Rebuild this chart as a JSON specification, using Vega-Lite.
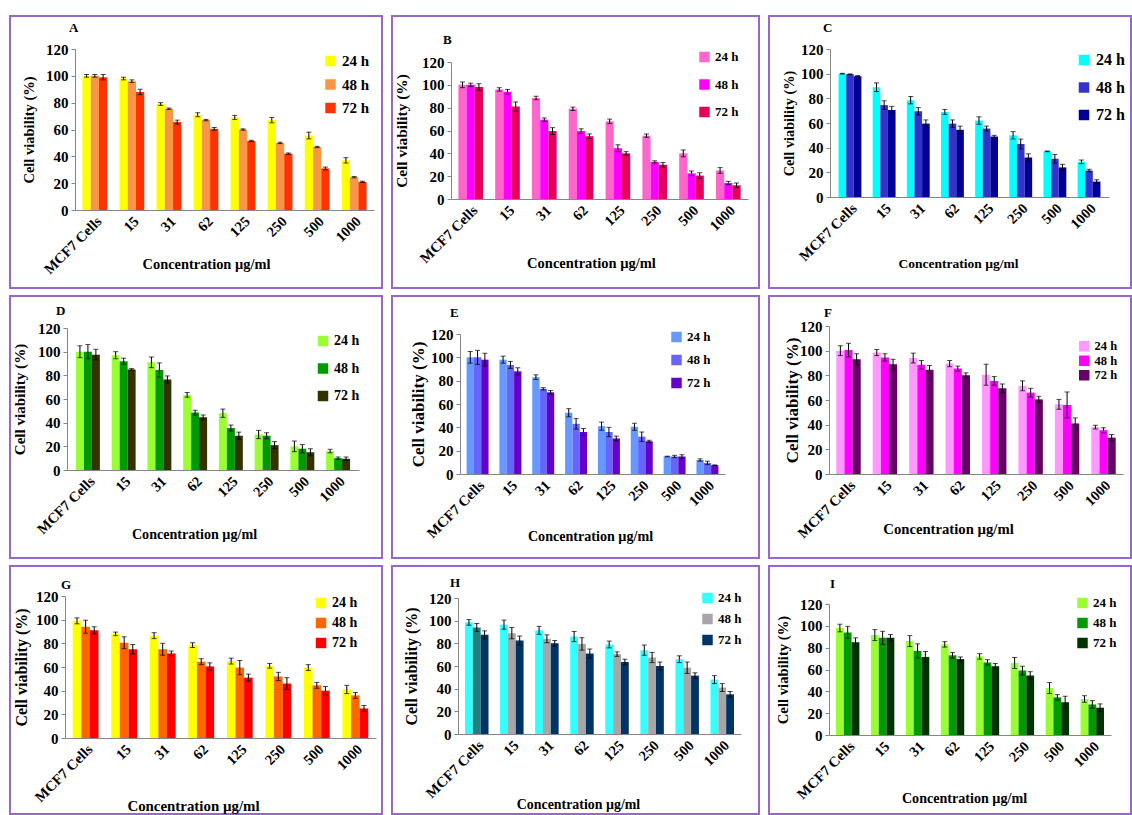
{
"$schema":"https://vega.github.io/schema/vega-lite/v6.json",
"background":"white",
"padding":{"left":9,"top":15,"right":0,"bottom":0},
"bounds":"flush",
"columns":3,
"align":"each",
"spacing":{"row":8,"column":10},
"data":{"values":[
{"p":"A","c":"MCF7 Cells","t":"24 h","v":100,"e":1},{"p":"A","c":"MCF7 Cells","t":"48 h","v":100,"e":1},{"p":"A","c":"MCF7 Cells","t":"72 h","v":99,"e":2},
{"p":"A","c":"15","t":"24 h","v":98,"e":1},{"p":"A","c":"15","t":"48 h","v":96,"e":1},{"p":"A","c":"15","t":"72 h","v":88,"e":2},
{"p":"A","c":"31","t":"24 h","v":79,"e":1},{"p":"A","c":"31","t":"48 h","v":75.5,"e":0.5},{"p":"A","c":"31","t":"72 h","v":65.5,"e":1.5},
{"p":"A","c":"62","t":"24 h","v":71,"e":1.5},{"p":"A","c":"62","t":"48 h","v":67,"e":0.5},{"p":"A","c":"62","t":"72 h","v":60.5,"e":1},
{"p":"A","c":"125","t":"24 h","v":69,"e":1.5},{"p":"A","c":"125","t":"48 h","v":60,"e":0.5},{"p":"A","c":"125","t":"72 h","v":51.5,"e":0.5},
{"p":"A","c":"250","t":"24 h","v":67,"e":2},{"p":"A","c":"250","t":"48 h","v":50,"e":0.5},{"p":"A","c":"250","t":"72 h","v":42,"e":0.5},
{"p":"A","c":"500","t":"24 h","v":55.5,"e":2.5},{"p":"A","c":"500","t":"48 h","v":47,"e":0.5},{"p":"A","c":"500","t":"72 h","v":31,"e":1},
{"p":"A","c":"1000","t":"24 h","v":37,"e":2},{"p":"A","c":"1000","t":"48 h","v":24.5,"e":0.5},{"p":"A","c":"1000","t":"72 h","v":21,"e":0.5},
{"p":"B","c":"MCF7 Cells","t":"24 h","v":100,"e":2.5},{"p":"B","c":"MCF7 Cells","t":"48 h","v":100,"e":1.5},{"p":"B","c":"MCF7 Cells","t":"72 h","v":98,"e":3},
{"p":"B","c":"15","t":"24 h","v":96,"e":1.5},{"p":"B","c":"15","t":"48 h","v":94,"e":2},{"p":"B","c":"15","t":"72 h","v":81,"e":4},
{"p":"B","c":"31","t":"24 h","v":88.5,"e":1.5},{"p":"B","c":"31","t":"48 h","v":69.5,"e":1.5},{"p":"B","c":"31","t":"72 h","v":59.5,"e":3},
{"p":"B","c":"62","t":"24 h","v":79,"e":1.5},{"p":"B","c":"62","t":"48 h","v":59.5,"e":2},{"p":"B","c":"62","t":"72 h","v":55,"e":2},
{"p":"B","c":"125","t":"24 h","v":68,"e":2},{"p":"B","c":"125","t":"48 h","v":44.5,"e":3},{"p":"B","c":"125","t":"72 h","v":40,"e":1.5},
{"p":"B","c":"250","t":"24 h","v":55.5,"e":1.5},{"p":"B","c":"250","t":"48 h","v":32.5,"e":1},{"p":"B","c":"250","t":"72 h","v":30,"e":2},
{"p":"B","c":"500","t":"24 h","v":40,"e":3},{"p":"B","c":"500","t":"48 h","v":22.5,"e":2},{"p":"B","c":"500","t":"72 h","v":20.5,"e":2.5},
{"p":"B","c":"1000","t":"24 h","v":25,"e":2.5},{"p":"B","c":"1000","t":"48 h","v":14,"e":1.5},{"p":"B","c":"1000","t":"72 h","v":12,"e":2},
{"p":"C","c":"MCF7 Cells","t":"24 h","v":100,"e":0.3},{"p":"C","c":"MCF7 Cells","t":"48 h","v":99.5,"e":0.3},{"p":"C","c":"MCF7 Cells","t":"72 h","v":98,"e":0.5},
{"p":"C","c":"15","t":"24 h","v":89,"e":3.5},{"p":"C","c":"15","t":"48 h","v":74.5,"e":3.5},{"p":"C","c":"15","t":"72 h","v":70.5,"e":3},
{"p":"C","c":"31","t":"24 h","v":78.5,"e":3},{"p":"C","c":"31","t":"48 h","v":69.5,"e":3},{"p":"C","c":"31","t":"72 h","v":59.5,"e":3},
{"p":"C","c":"62","t":"24 h","v":69,"e":2},{"p":"C","c":"62","t":"48 h","v":59.5,"e":3},{"p":"C","c":"62","t":"72 h","v":54.5,"e":3},
{"p":"C","c":"125","t":"24 h","v":62,"e":3},{"p":"C","c":"125","t":"48 h","v":55.5,"e":2},{"p":"C","c":"125","t":"72 h","v":49,"e":1},
{"p":"C","c":"250","t":"24 h","v":50,"e":3},{"p":"C","c":"250","t":"48 h","v":43,"e":4},{"p":"C","c":"250","t":"72 h","v":32,"e":3},
{"p":"C","c":"500","t":"24 h","v":37,"e":0.3},{"p":"C","c":"500","t":"48 h","v":31,"e":3.5},{"p":"C","c":"500","t":"72 h","v":24,"e":2.5},
{"p":"C","c":"1000","t":"24 h","v":28.5,"e":1.5},{"p":"C","c":"1000","t":"48 h","v":21.5,"e":1},{"p":"C","c":"1000","t":"72 h","v":12.5,"e":1.5},
{"p":"D","c":"MCF7 Cells","t":"24 h","v":100,"e":5},{"p":"D","c":"MCF7 Cells","t":"48 h","v":100,"e":6},{"p":"D","c":"MCF7 Cells","t":"72 h","v":97.5,"e":4.5},
{"p":"D","c":"15","t":"24 h","v":97,"e":3},{"p":"D","c":"15","t":"48 h","v":92,"e":2.5},{"p":"D","c":"15","t":"72 h","v":85,"e":0.7},
{"p":"D","c":"31","t":"24 h","v":91,"e":4.5},{"p":"D","c":"31","t":"48 h","v":84.5,"e":6},{"p":"D","c":"31","t":"72 h","v":76.5,"e":3},
{"p":"D","c":"62","t":"24 h","v":63.5,"e":2},{"p":"D","c":"62","t":"48 h","v":48.5,"e":2},{"p":"D","c":"62","t":"72 h","v":44.5,"e":2},
{"p":"D","c":"125","t":"24 h","v":48,"e":3.5},{"p":"D","c":"125","t":"48 h","v":35.5,"e":2.5},{"p":"D","c":"125","t":"72 h","v":29,"e":3},
{"p":"D","c":"250","t":"24 h","v":30,"e":3.5},{"p":"D","c":"250","t":"48 h","v":29,"e":2.5},{"p":"D","c":"250","t":"72 h","v":21,"e":3},
{"p":"D","c":"500","t":"24 h","v":20,"e":4.5},{"p":"D","c":"500","t":"48 h","v":18,"e":3.5},{"p":"D","c":"500","t":"72 h","v":15,"e":3},
{"p":"D","c":"1000","t":"24 h","v":16,"e":1.5},{"p":"D","c":"1000","t":"48 h","v":10,"e":1},{"p":"D","c":"1000","t":"72 h","v":9.5,"e":1.5},
{"p":"E","c":"MCF7 Cells","t":"24 h","v":100,"e":5},{"p":"E","c":"MCF7 Cells","t":"48 h","v":100,"e":6},{"p":"E","c":"MCF7 Cells","t":"72 h","v":98,"e":5.5},
{"p":"E","c":"15","t":"24 h","v":98,"e":3},{"p":"E","c":"15","t":"48 h","v":93.5,"e":3},{"p":"E","c":"15","t":"72 h","v":88,"e":3},
{"p":"E","c":"31","t":"24 h","v":83,"e":2},{"p":"E","c":"31","t":"48 h","v":73,"e":1},{"p":"E","c":"31","t":"72 h","v":70,"e":1.5},
{"p":"E","c":"62","t":"24 h","v":52.5,"e":3.5},{"p":"E","c":"62","t":"48 h","v":43,"e":4.5},{"p":"E","c":"62","t":"72 h","v":36,"e":3},
{"p":"E","c":"125","t":"24 h","v":41,"e":3.5},{"p":"E","c":"125","t":"48 h","v":36,"e":4},{"p":"E","c":"125","t":"72 h","v":30.5,"e":2},
{"p":"E","c":"250","t":"24 h","v":40.5,"e":3},{"p":"E","c":"250","t":"48 h","v":32,"e":4},{"p":"E","c":"250","t":"72 h","v":28,"e":1},
{"p":"E","c":"500","t":"24 h","v":15,"e":0.3},{"p":"E","c":"500","t":"48 h","v":15,"e":1},{"p":"E","c":"500","t":"72 h","v":15,"e":1.5},
{"p":"E","c":"1000","t":"24 h","v":12,"e":1},{"p":"E","c":"1000","t":"48 h","v":9.5,"e":1.5},{"p":"E","c":"1000","t":"72 h","v":7.5,"e":0.3},
{"p":"F","c":"MCF7 Cells","t":"24 h","v":100,"e":4},{"p":"F","c":"MCF7 Cells","t":"48 h","v":100.5,"e":5.5},{"p":"F","c":"MCF7 Cells","t":"72 h","v":93,"e":4.5},
{"p":"F","c":"15","t":"24 h","v":98.5,"e":2.5},{"p":"F","c":"15","t":"48 h","v":94.5,"e":3},{"p":"F","c":"15","t":"72 h","v":89,"e":4},
{"p":"F","c":"31","t":"24 h","v":94,"e":4},{"p":"F","c":"31","t":"48 h","v":88.5,"e":3.5},{"p":"F","c":"31","t":"72 h","v":84.5,"e":3.5},
{"p":"F","c":"62","t":"24 h","v":89.5,"e":2.5},{"p":"F","c":"62","t":"48 h","v":85.5,"e":2},{"p":"F","c":"62","t":"72 h","v":80,"e":2},
{"p":"F","c":"125","t":"24 h","v":80.5,"e":8.5},{"p":"F","c":"125","t":"48 h","v":75.5,"e":3.5},{"p":"F","c":"125","t":"72 h","v":69.5,"e":3.5},
{"p":"F","c":"250","t":"24 h","v":71.5,"e":4},{"p":"F","c":"250","t":"48 h","v":66,"e":3.5},{"p":"F","c":"250","t":"72 h","v":60.5,"e":2.5},
{"p":"F","c":"500","t":"24 h","v":56.5,"e":4},{"p":"F","c":"500","t":"48 h","v":56,"e":10.5},{"p":"F","c":"500","t":"72 h","v":41,"e":4.5},
{"p":"F","c":"1000","t":"24 h","v":38,"e":1.5},{"p":"F","c":"1000","t":"48 h","v":35.5,"e":2},{"p":"F","c":"1000","t":"72 h","v":29.5,"e":2.5},
{"p":"G","c":"MCF7 Cells","t":"24 h","v":99,"e":2.5},{"p":"G","c":"MCF7 Cells","t":"48 h","v":94,"e":5.5},{"p":"G","c":"MCF7 Cells","t":"72 h","v":91,"e":3},
{"p":"G","c":"15","t":"24 h","v":88,"e":1.5},{"p":"G","c":"15","t":"48 h","v":80.5,"e":5},{"p":"G","c":"15","t":"72 h","v":75,"e":4},
{"p":"G","c":"31","t":"24 h","v":86.5,"e":2.5},{"p":"G","c":"31","t":"48 h","v":75,"e":5},{"p":"G","c":"31","t":"72 h","v":71.5,"e":2},
{"p":"G","c":"62","t":"24 h","v":78.5,"e":2},{"p":"G","c":"62","t":"48 h","v":64.5,"e":2.5},{"p":"G","c":"62","t":"72 h","v":60.5,"e":3},
{"p":"G","c":"125","t":"24 h","v":65,"e":2.5},{"p":"G","c":"125","t":"48 h","v":59.5,"e":6},{"p":"G","c":"125","t":"72 h","v":51,"e":3},
{"p":"G","c":"250","t":"24 h","v":61,"e":2},{"p":"G","c":"250","t":"48 h","v":52,"e":3.5},{"p":"G","c":"250","t":"72 h","v":46,"e":5},
{"p":"G","c":"500","t":"24 h","v":59.5,"e":2.5},{"p":"G","c":"500","t":"48 h","v":44.5,"e":2.5},{"p":"G","c":"500","t":"72 h","v":40,"e":3.5},
{"p":"G","c":"1000","t":"24 h","v":41,"e":3.5},{"p":"G","c":"1000","t":"48 h","v":36,"e":2.5},{"p":"G","c":"1000","t":"72 h","v":25,"e":2.5},
{"p":"H","c":"MCF7 Cells","t":"24 h","v":98.5,"e":2.5},{"p":"H","c":"MCF7 Cells","t":"48 h","v":94,"e":3.5},{"p":"H","c":"MCF7 Cells","t":"72 h","v":87.5,"e":3.5},
{"p":"H","c":"15","t":"24 h","v":96.5,"e":4},{"p":"H","c":"15","t":"48 h","v":89,"e":5},{"p":"H","c":"15","t":"72 h","v":82.5,"e":4},
{"p":"H","c":"31","t":"24 h","v":91.5,"e":3.5},{"p":"H","c":"31","t":"48 h","v":84,"e":3.5},{"p":"H","c":"31","t":"72 h","v":80,"e":2.5},
{"p":"H","c":"62","t":"24 h","v":86,"e":4.5},{"p":"H","c":"62","t":"48 h","v":79.5,"e":5.5},{"p":"H","c":"62","t":"72 h","v":71,"e":4},
{"p":"H","c":"125","t":"24 h","v":79,"e":3},{"p":"H","c":"125","t":"48 h","v":70.5,"e":2},{"p":"H","c":"125","t":"72 h","v":63.5,"e":2.5},
{"p":"H","c":"250","t":"24 h","v":74,"e":4.5},{"p":"H","c":"250","t":"48 h","v":67.5,"e":4.5},{"p":"H","c":"250","t":"72 h","v":60,"e":3.5},
{"p":"H","c":"500","t":"24 h","v":66,"e":3},{"p":"H","c":"500","t":"48 h","v":58.5,"e":5},{"p":"H","c":"500","t":"72 h","v":51.5,"e":2.5},
{"p":"H","c":"1000","t":"24 h","v":48,"e":3.5},{"p":"H","c":"1000","t":"48 h","v":41,"e":3.5},{"p":"H","c":"1000","t":"72 h","v":35,"e":2.5},
{"p":"I","c":"MCF7 Cells","t":"24 h","v":98,"e":3.5},{"p":"I","c":"MCF7 Cells","t":"48 h","v":94,"e":5.5},{"p":"I","c":"MCF7 Cells","t":"72 h","v":85,"e":4},
{"p":"I","c":"15","t":"24 h","v":91.5,"e":5},{"p":"I","c":"15","t":"48 h","v":89,"e":6},{"p":"I","c":"15","t":"72 h","v":89,"e":3},
{"p":"I","c":"31","t":"24 h","v":86,"e":5},{"p":"I","c":"31","t":"48 h","v":77,"e":6.5},{"p":"I","c":"31","t":"72 h","v":71.5,"e":5},
{"p":"I","c":"62","t":"24 h","v":83,"e":2.5},{"p":"I","c":"62","t":"48 h","v":73,"e":2.5},{"p":"I","c":"62","t":"72 h","v":69.5,"e":2},
{"p":"I","c":"125","t":"24 h","v":72,"e":2.5},{"p":"I","c":"125","t":"48 h","v":66.5,"e":2.5},{"p":"I","c":"125","t":"72 h","v":63,"e":2.5},
{"p":"I","c":"250","t":"24 h","v":66,"e":5},{"p":"I","c":"250","t":"48 h","v":59,"e":4},{"p":"I","c":"250","t":"72 h","v":54.5,"e":3.5},
{"p":"I","c":"500","t":"24 h","v":43,"e":5},{"p":"I","c":"500","t":"48 h","v":34.5,"e":2.5},{"p":"I","c":"500","t":"72 h","v":30,"e":5.5},
{"p":"I","c":"1000","t":"24 h","v":33,"e":3},{"p":"I","c":"1000","t":"48 h","v":28,"e":3.5},{"p":"I","c":"1000","t":"72 h","v":25,"e":3.5}
]},
"resolve":{"scale":{"color":"independent","x":"independent","y":"independent","xOffset":"independent"},"legend":{"color":"independent"},"axis":{"x":"independent","y":"independent"}},
"concat":[
{"width":372,"height":272,"view":{"stroke":"#9966CC","strokeWidth":2},
"title":{"text":"A","anchor":"start","frame":"group","dx":59,"offset":-25,"baseline":"middle"},
"transform":[{"filter":"datum.p=='A'"}],
"encoding":{
"x":{"field":"c","type":"nominal","scale":{"domain":["MCF7 Cells","15","31","62","125","250","500","1000"],"range":[65,364],"paddingInner":0.33,"paddingOuter":0.2},"axis":{"title":"Concentration µg/ml","offset":-78,"titleX":196,"titleY":54,"titleFontSize":14.4}},
"xOffset":{"field":"t","type":"nominal","scale":{"paddingInner":0,"paddingOuter":0}},
"y":{"field":"v","type":"quantitative","scale":{"domain":[0,120],"range":[194,33],"nice":false},"axis":{"title":"Cell viability (%)","offset":-65,"values":[0,20,40,60,80,100,120],"titleX":-46,"titleFontSize":14.5}}},
"layer":[
{"mark":{"type":"bar"},"encoding":{"color":{"field":"t","type":"nominal","scale":{"domain":["24 h","48 h","72 h"],"range":["#FFFF00","#F79646","#FF3300"]},"legend":{"title":null,"legendX":313,"legendY":37.5,"rowPadding":7.5,"labelFontSize":15}}}},
{"mark":{"type":"errorbar","color":"black","ticks":{"size":5}},"encoding":{"yError":{"field":"e"}}}]},
{"width":367,"height":272,"view":{"stroke":"#9966CC","strokeWidth":2},
"title":{"text":"B","anchor":"start","frame":"group","dx":51,"offset":-37,"baseline":"middle"},
"transform":[{"filter":"datum.p=='B'"}],
"encoding":{
"x":{"field":"c","type":"nominal","scale":{"domain":["MCF7 Cells","15","31","62","125","250","500","1000"],"range":[59,356],"paddingInner":0.33,"paddingOuter":0.2},"axis":{"title":"Concentration µg/ml","offset":-89,"titleX":199,"titleY":64,"titleFontSize":14.5}},
"xOffset":{"field":"t","type":"nominal","scale":{"paddingInner":0,"paddingOuter":0}},
"y":{"field":"v","type":"quantitative","scale":{"domain":[0,120],"range":[183,46],"nice":false},"axis":{"title":"Cell viability (%)","offset":-59,"values":[0,20,40,60,80,100,120],"titleX":-50,"titleFontSize":15.4}}},
"layer":[
{"mark":{"type":"bar"},"encoding":{"color":{"field":"t","type":"nominal","scale":{"domain":["24 h","48 h","72 h"],"range":["#FF66CC","#FF00FF","#E6005C"]},"legend":{"title":null,"legendX":306,"legendY":34.5,"rowPadding":13.5,"labelFontSize":13}}}},
{"mark":{"type":"errorbar","color":"black","ticks":{"size":5}},"encoding":{"yError":{"field":"e"}}}]},
{"width":362,"height":272,"view":{"stroke":"#9966CC","strokeWidth":2},
"title":{"text":"C","anchor":"start","frame":"group","dx":54,"offset":-25,"baseline":"middle"},
"transform":[{"filter":"datum.p=='C'"}],
"encoding":{
"x":{"field":"c","type":"nominal","scale":{"domain":["MCF7 Cells","15","31","62","125","250","500","1000"],"range":[61,340],"paddingInner":0.33,"paddingOuter":0.25},"axis":{"title":"Concentration µg/ml","offset":-91,"titleX":189,"titleY":66,"titleFontSize":13.5}},
"xOffset":{"field":"t","type":"nominal","scale":{"paddingInner":0,"paddingOuter":0}},
"y":{"field":"v","type":"quantitative","scale":{"domain":[0,120],"range":[181,33],"nice":false},"axis":{"title":"Cell viability (%)","offset":-61,"values":[0,20,40,60,80,100,120],"titleX":-41,"titleFontSize":14.3}}},
"layer":[
{"mark":{"type":"bar"},"encoding":{"color":{"field":"t","type":"nominal","scale":{"domain":["24 h","48 h","72 h"],"range":["#00FFFF","#3333CC","#000099"]},"legend":{"title":null,"legendX":307,"legendY":36,"rowPadding":11.5,"labelFontSize":16}}}},
{"mark":{"type":"errorbar","color":"black","ticks":{"size":5}},"encoding":{"yError":{"field":"e"}}}]},
{"width":372,"height":262,"view":{"stroke":"#9966CC","strokeWidth":2},
"title":{"text":"D","anchor":"start","frame":"group","dx":46,"offset":-28,"baseline":"middle"},
"transform":[{"filter":"datum.p=='D'"}],
"encoding":{
"x":{"field":"c","type":"nominal","scale":{"domain":["MCF7 Cells","15","31","62","125","250","500","1000"],"range":[57,349],"paddingInner":0.33,"paddingOuter":0.25},"axis":{"title":"Concentration µg/ml","offset":-88,"titleX":184,"titleY":64,"titleFontSize":14.1}},
"xOffset":{"field":"t","type":"nominal","scale":{"paddingInner":0,"paddingOuter":0}},
"y":{"field":"v","type":"quantitative","scale":{"domain":[0,120],"range":[174,32],"nice":false},"axis":{"title":"Cell viability (%)","offset":-57,"values":[0,20,40,60,80,100,120],"titleX":-48,"titleFontSize":15.1}}},
"layer":[
{"mark":{"type":"bar"},"encoding":{"color":{"field":"t","type":"nominal","scale":{"domain":["24 h","48 h","72 h"],"range":["#99FF33","#009900","#333300"]},"legend":{"title":null,"legendX":306,"legendY":38,"rowPadding":13.5,"labelFontSize":14}}}},
{"mark":{"type":"errorbar","color":"black","ticks":{"size":5}},"encoding":{"yError":{"field":"e"}}}]},
{"width":367,"height":262,"view":{"stroke":"#9966CC","strokeWidth":2},
"title":{"text":"E","anchor":"start","frame":"group","dx":58,"offset":-30,"baseline":"middle"},
"transform":[{"filter":"datum.p=='E'"}],
"encoding":{
"x":{"field":"c","type":"nominal","scale":{"domain":["MCF7 Cells","15","31","62","125","250","500","1000"],"range":[68,333],"paddingInner":0.33,"paddingOuter":0.2},"axis":{"title":"Concentration µg/ml","offset":-84,"titleX":198,"titleY":62,"titleFontSize":14.1}},
"xOffset":{"field":"t","type":"nominal","scale":{"paddingInner":0,"paddingOuter":0}},
"y":{"field":"v","type":"quantitative","scale":{"domain":[0,120],"range":[178,38],"nice":false},"axis":{"title":"Cell viability (%)","offset":-68,"values":[0,20,40,60,80,100,120],"titleX":-42,"titleFontSize":17}}},
"layer":[
{"mark":{"type":"bar"},"encoding":{"color":{"field":"t","type":"nominal","scale":{"domain":["24 h","48 h","72 h"],"range":["#6699FF","#6666FF","#6600CC"]},"legend":{"title":null,"legendX":278,"legendY":34.5,"rowPadding":9,"labelFontSize":13}}}},
{"mark":{"type":"errorbar","color":"black","ticks":{"size":5}},"encoding":{"yError":{"field":"e"}}}]},
{"width":362,"height":262,"view":{"stroke":"#9966CC","strokeWidth":2},
"title":{"text":"F","anchor":"start","frame":"group","dx":55,"offset":-30,"baseline":"middle"},
"transform":[{"filter":"datum.p=='F'"}],
"encoding":{
"x":{"field":"c","type":"nominal","scale":{"domain":["MCF7 Cells","15","31","62","125","250","500","1000"],"range":[60,354],"paddingInner":0.33,"paddingOuter":0.2},"axis":{"title":"Concentration µg/ml","offset":-84,"titleX":179,"titleY":55,"titleFontSize":14.7}},
"xOffset":{"field":"t","type":"nominal","scale":{"paddingInner":0,"paddingOuter":0}},
"y":{"field":"v","type":"quantitative","scale":{"domain":[0,120],"range":[178,30],"nice":false},"axis":{"title":"Cell viability (%)","offset":-60,"values":[0,20,40,60,80,100,120],"titleX":-37,"titleFontSize":17}}},
"layer":[
{"mark":{"type":"bar"},"encoding":{"color":{"field":"t","type":"nominal","scale":{"domain":["24 h","48 h","72 h"],"range":["#FF99FF","#FF00FF","#660066"]},"legend":{"title":null,"legendX":309,"legendY":44,"rowPadding":1.5,"labelFontSize":12.5}}}},
{"mark":{"type":"errorbar","color":"black","ticks":{"size":5}},"encoding":{"yError":{"field":"e"}}}]},
{"width":372,"height":248,"view":{"stroke":"#9966CC","strokeWidth":2},
"title":{"text":"G","anchor":"start","frame":"group","dx":51,"offset":-32,"baseline":"middle"},
"transform":[{"filter":"datum.p=='G'"}],
"encoding":{
"x":{"field":"c","type":"nominal","scale":{"domain":["MCF7 Cells","15","31","62","125","250","500","1000"],"range":[55,366],"paddingInner":0.33,"paddingOuter":0.2},"axis":{"title":"Concentration µg/ml","offset":-76,"titleX":183,"titleY":68,"titleFontSize":14.9}},
"xOffset":{"field":"t","type":"nominal","scale":{"paddingInner":0,"paddingOuter":0}},
"y":{"field":"v","type":"quantitative","scale":{"domain":[0,120],"range":[172,30],"nice":false},"axis":{"title":"Cell viability (%)","offset":-55,"values":[0,20,40,60,80,100,120],"titleX":-44,"titleFontSize":16}}},
"layer":[
{"mark":{"type":"bar"},"encoding":{"color":{"field":"t","type":"nominal","scale":{"domain":["24 h","48 h","72 h"],"range":["#FFFF00","#FF6600","#FF0000"]},"legend":{"title":null,"legendX":304,"legendY":30,"rowPadding":6,"labelFontSize":14}}}},
{"mark":{"type":"errorbar","color":"black","ticks":{"size":5}},"encoding":{"yError":{"field":"e"}}}]},
{"width":367,"height":248,"view":{"stroke":"#9966CC","strokeWidth":2},
"title":{"text":"H","anchor":"start","frame":"group","dx":58,"offset":-30,"baseline":"middle"},
"transform":[{"filter":"datum.p=='H'"}],
"encoding":{
"x":{"field":"c","type":"nominal","scale":{"domain":["MCF7 Cells","15","31","62","125","250","500","1000"],"range":[66,349],"paddingInner":0.33,"paddingOuter":0.2},"axis":{"title":"Concentration µg/ml","offset":-80,"titleX":186,"titleY":70,"titleFontSize":13.9}},
"xOffset":{"field":"t","type":"nominal","scale":{"paddingInner":0,"paddingOuter":0}},
"y":{"field":"v","type":"quantitative","scale":{"domain":[0,120],"range":[168,32],"nice":false},"axis":{"title":"Cell viability (%)","offset":-66,"values":[0,20,40,60,80,100,120],"titleX":-47,"titleFontSize":16}}},
"layer":[
{"mark":{"type":"bar"},"encoding":{"color":{"condition":{"test":"datum.c=='MCF7 Cells' && datum.t=='48 h'","value":"#1F8080"},"field":"t","type":"nominal","scale":{"domain":["24 h","48 h","72 h"],"range":["#33FFFF","#A6A6A6","#003366"]},"legend":{"title":null,"legendX":309,"legendY":25.5,"rowPadding":7,"labelFontSize":13}}}},
{"mark":{"type":"errorbar","color":"black","ticks":{"size":5}},"encoding":{"yError":{"field":"e"}}}]},
{"width":362,"height":248,"view":{"stroke":"#9966CC","strokeWidth":2},
"title":{"text":"I","anchor":"start","frame":"group","dx":61,"offset":-31,"baseline":"middle"},
"transform":[{"filter":"datum.p=='I'"}],
"encoding":{
"x":{"field":"c","type":"nominal","scale":{"domain":["MCF7 Cells","15","31","62","125","250","500","1000"],"range":[60,342],"paddingInner":0.33,"paddingOuter":0.2},"axis":{"title":"Concentration µg/ml","offset":-79,"titleX":195,"titleY":63,"titleFontSize":14.1}},
"xOffset":{"field":"t","type":"nominal","scale":{"paddingInner":0,"paddingOuter":0}},
"y":{"field":"v","type":"quantitative","scale":{"domain":[0,120],"range":[169,38],"nice":false},"axis":{"title":"Cell viability (%)","offset":-60,"values":[0,20,40,60,80,100,120],"titleX":-46,"titleFontSize":14.7}}},
"layer":[
{"mark":{"type":"bar"},"encoding":{"color":{"field":"t","type":"nominal","scale":{"domain":["24 h","48 h","72 h"],"range":["#99FF33","#009900","#003300"]},"legend":{"title":null,"legendX":307,"legendY":30.5,"rowPadding":6,"labelFontSize":13}}}},
{"mark":{"type":"errorbar","color":"black","ticks":{"size":5}},"encoding":{"yError":{"field":"e"}}}]}
],
"config":{
"font":"Liberation Serif",
"title":{"font":"Liberation Serif","fontSize":13,"fontWeight":"bold","color":"black"},
"axis":{"labelFont":"Liberation Serif","labelFontWeight":"bold","labelColor":"black","titleFont":"Liberation Serif","titleFontWeight":"bold","titleColor":"black","domainColor":"#868686","tickColor":"#868686","grid":false},
"axisX":{"labelAngle":-45,"ticks":false,"titleBaseline":"middle","labelPadding":4,"labelFontSize":14.5},
"axisY":{"tickSize":4,"titleBaseline":"middle","labelPadding":3,"labelFontSize":15},
"legend":{"orient":"none","symbolType":"square","symbolSize":110,"symbolStrokeWidth":0,"labelFont":"Liberation Serif","labelFontWeight":"bold","labelColor":"black","padding":0,"labelOffset":4},
"rule":{"strokeWidth":1},
"tick":{"thickness":1}
}
}
